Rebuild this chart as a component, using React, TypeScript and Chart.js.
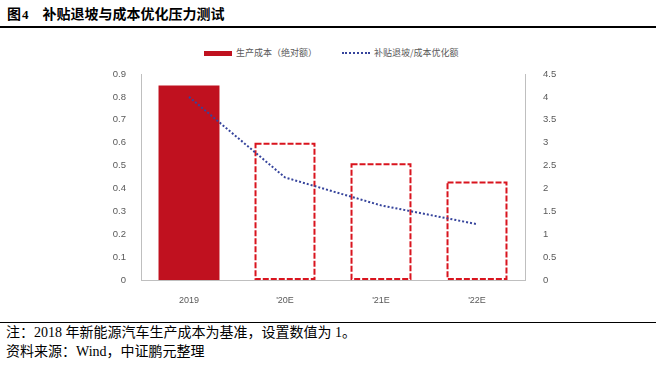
import React, { useEffect, useRef } from 'react';
import { Chart, registerables } from 'chart.js';

Chart.register(...registerables);

// ---- data ----
const categories = ['2019', "'20E", "'21E", "'22E"];
const productionCost = [0.85, 0.6, 0.51, 0.43];
const costIsProjected = [false, true, true, true];
const subsidyOptimization = [4.0, 2.24, 1.63, 1.22];

const costLabel = '生产成本（绝对额）';
const subsidyLabel = '补贴退坡/成本优化额';
const titleText = '补贴退坡与成本优化压力测试';
const noteText = '注：2018 年新能源汽车生产成本为基准，设置数值为 1。';
const sourceText = '资料来源：Wind，中证鹏元整理';

const leftAxisMax = 0.9;
const leftAxisStep = 0.1;
const rightAxisMax = 4.5;
const rightAxisStep = 0.5;

// ---- styles ----
const RED = '#C0111F';
const DASH_RED = '#D9141E';
const NAVY = '#36449C';
const AXIS = '#BFBFBF';
const LABEL = '#595959';

const dashedBarPlugin = {
  id: 'dashedBars',
  afterDatasetDraw(chart: any, args: any) {
    if (args.index !== 0) return;
    const ctx = chart.ctx;
    ctx.save();
    ctx.strokeStyle = DASH_RED;
    ctx.lineWidth = 2;
    ctx.setLineDash([6, 2]);
    args.meta.data.forEach((el: any, i: number) => {
      if (!costIsProjected[i]) return;
      const { x, y, base, width } = el.getProps(['x', 'y', 'base', 'width'], true);
      const left = x - width / 2 + 1;
      const right = x + width / 2 - 1;
      ctx.strokeRect(left, y + 1, right - left, base - y - 2);
    });
    ctx.restore();
  },
};

const fmt = (v: number) => String(Math.round(v * 10) / 10);

export default function App() {
  const ref = useRef<HTMLCanvasElement | null>(null);

  useEffect(() => {
    if (!ref.current) return;
    const chart = new Chart(ref.current, {
      type: 'bar',
      data: {
        labels: categories,
        datasets: [
          {
            type: 'bar',
            label: costLabel,
            data: productionCost,
            backgroundColor: costIsProjected.map((p) => (p ? 'rgba(0,0,0,0)' : RED)),
            borderWidth: 0,
            barPercentage: 0.635,
            categoryPercentage: 1,
            yAxisID: 'y',
            order: 1,
          },
          {
            type: 'line',
            label: subsidyLabel,
            data: subsidyOptimization,
            borderColor: NAVY,
            borderWidth: 2,
            borderDash: [2, 2],
            borderCapStyle: 'butt',
            pointRadius: 0,
            tension: 0,
            fill: false,
            yAxisID: 'y1',
            order: 0,
          },
        ],
      } as any,
      options: {
        responsive: false,
        animation: false,
        devicePixelRatio: 1,
        layout: { padding: { top: 44, left: 0, right: 0, bottom: 0 } },
        plugins: {
          legend: { display: false },
          tooltip: { enabled: false },
        },
        scales: {
          x: {
            grid: { display: false },
            border: { display: true, color: AXIS, width: 1 },
            ticks: {
              color: LABEL,
              font: { family: '"Liberation Sans", Arial, sans-serif', size: 9 },
              padding: 7,
              maxRotation: 0,
            },
            afterFit: (s: any) => {
              s.height = 40;
            },
          },
          y: {
            position: 'left',
            min: 0,
            max: leftAxisMax,
            grid: { display: false },
            border: { display: true, color: AXIS, width: 1 },
            ticks: {
              stepSize: leftAxisStep,
              color: LABEL,
              font: { family: '"Liberation Sans", Arial, sans-serif', size: 9.5 },
              padding: 7,
              callback: (v: any) => fmt(Number(v)),
            },
            afterFit: (s: any) => {
              s.width = 141;
            },
          },
          y1: {
            position: 'right',
            min: 0,
            max: rightAxisMax,
            grid: { display: false },
            border: { display: true, color: AXIS, width: 1 },
            ticks: {
              stepSize: rightAxisStep,
              color: LABEL,
              font: { family: '"Liberation Sans", Arial, sans-serif', size: 9.5 },
              padding: 10,
              callback: (v: any) => fmt(Number(v)),
            },
            afterFit: (s: any) => {
              s.width = 131;
            },
          },
        },
      } as any,
      plugins: [dashedBarPlugin],
    });
    return () => chart.destroy();
  }, []);

  const cjk = '"Noto Sans CJK SC", "Noto Sans", sans-serif';
  const serifCjk = '"Liberation Serif", "Times New Roman", "Noto Sans CJK SC", serif';

  return (
    <div
      style={{
        position: 'absolute',
        left: 0,
        top: 0,
        width: 656,
        height: 365,
        background: '#fff',
        overflow: 'hidden',
      }}
    >
      {/* title */}
      <div
        style={{
          position: 'absolute',
          left: 7,
          top: 3,
          height: 20,
          lineHeight: '20px',
          fontFamily: serifCjk,
          fontWeight: 'bold',
          fontSize: 14,
          color: '#000',
          whiteSpace: 'nowrap',
        }}
      >
        <span style={{ fontFamily: cjk }}>图</span>
        <span style={{ fontSize: 13, marginLeft: 1 }}>4</span>
        <span style={{ fontFamily: cjk, marginLeft: 14 }}>{titleText}</span>
      </div>
      <div style={{ position: 'absolute', left: 0, top: 26, width: 656, height: 1.5, background: '#000' }} />

      {/* legend */}
      <div style={{ position: 'absolute', left: 204, top: 51, width: 28, height: 5, background: RED }} />
      <div
        style={{
          position: 'absolute',
          left: 236,
          top: 46,
          height: 14,
          lineHeight: '14px',
          fontFamily: cjk,
          fontSize: 9,
          color: LABEL,
          whiteSpace: 'nowrap',
        }}
      >
        {costLabel}
      </div>
      <div
        style={{
          position: 'absolute',
          left: 342,
          top: 52,
          width: 28,
          height: 0,
          borderTop: `2px dotted ${NAVY}`,
        }}
      />
      <div
        style={{
          position: 'absolute',
          left: 374,
          top: 46,
          height: 14,
          lineHeight: '14px',
          fontFamily: cjk,
          fontSize: 9,
          color: LABEL,
          whiteSpace: 'nowrap',
        }}
      >
        {subsidyLabel}
      </div>

      {/* chart */}
      <div style={{ position: 'absolute', left: 0, top: 30, width: 656, height: 290 }}>
        <canvas ref={ref} width={656} height={290} style={{ width: 656, height: 290, display: 'block' }} />
      </div>

      {/* footer */}
      <div style={{ position: 'absolute', left: 0, top: 322, width: 656, height: 1, background: '#000' }} />
      <div
        style={{
          position: 'absolute',
          left: 6,
          top: 324,
          height: 18,
          lineHeight: '18px',
          fontFamily: serifCjk,
          fontSize: 14,
          color: '#000',
          whiteSpace: 'nowrap',
        }}
      >
        {noteText}
      </div>
      <div
        style={{
          position: 'absolute',
          left: 6,
          top: 343,
          height: 18,
          lineHeight: '18px',
          fontFamily: serifCjk,
          fontSize: 14,
          color: '#000',
          whiteSpace: 'nowrap',
        }}
      >
        {sourceText}
      </div>
    </div>
  );
}
